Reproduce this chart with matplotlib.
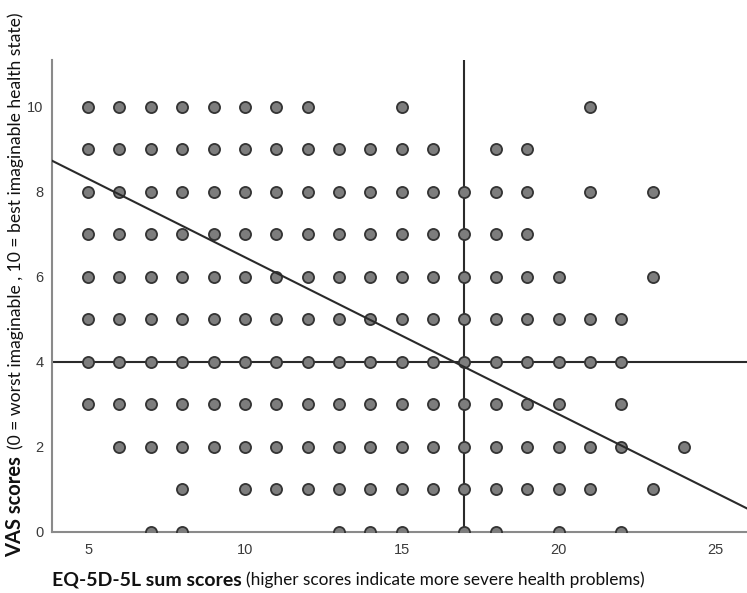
import numpy as np
import matplotlib.pyplot as plt

# VAS score -> EQ-5D-5L sum scores observed at that VAS level
rows = {
    10: [5, 6, 7, 8, 9, 10, 11, 12, 15, 21],
    9: [5, 6, 7, 8, 9, 10, 11, 12, 13, 14, 15, 16, 18, 19],
    8: list(range(5, 20)) + [21, 23],
    7: list(range(5, 20)),
    6: list(range(5, 21)) + [23],
    5: list(range(5, 23)),
    4: list(range(5, 23)),
    3: list(range(5, 21)) + [22],
    2: list(range(6, 23)) + [24],
    1: [8] + list(range(10, 22)) + [23],
    0: [7, 8, 13, 14, 15, 17, 18, 20, 22],
}
x_pts = []
y_pts = []
for vas, eqs in rows.items():
    x_pts += eqs
    y_pts += [vas] * len(eqs)

fit_intercept = 10.15
fit_slope = -0.369
ref_x = 17
ref_y = 4

fig = plt.figure(figsize=(7.47, 5.93), dpi=100)
ax = fig.add_axes([0.0696, 0.103, 0.93, 0.796])

ax.scatter(x_pts, y_pts, s=64, c="#7d7d7d", edgecolors="#333333", linewidths=1.3, zorder=3)

xl = np.array([3.85, 26.0])
ax.plot(xl, fit_intercept + fit_slope * xl, color="#2a2a2a", lw=1.5, zorder=4)
ax.axvline(ref_x, color="#2a2a2a", lw=1.5, zorder=2)
ax.axhline(ref_y, color="#2a2a2a", lw=1.5, zorder=2)

ax.set_xlim(3.85, 26.0)
ax.set_ylim(0, 11.1)
ax.set_xticks([5, 10, 15, 20, 25])
ax.set_yticks([0, 2, 4, 6, 8, 10])
for s in ["top", "right"]:
    ax.spines[s].set_visible(False)
for s in ["left", "bottom"]:
    ax.spines[s].set_color("#8a8a8a")
    ax.spines[s].set_linewidth(1.5)
ax.tick_params(length=0, labelsize=10.5, labelcolor="#3a3a3a", pad=8)
ax.tick_params(axis="y", pad=6)
for lab in ax.get_xticklabels() + ax.get_yticklabels():
    lab.set_family("Liberation Sans")

# composite axis labels: bold part followed by normal part
fig.canvas.draw()
r = fig.canvas.get_renderer()
t1 = fig.text(52 / 747, 1 - 580 / 593, "EQ-5D-5L sum scores", fontsize=14, fontweight="bold",
              family="Lato", va="center", ha="left", color="#111111")
bb = t1.get_window_extent(r)
fig.text(bb.x1 / fig.bbox.width + 0.006, 1 - 580 / 593,
         "(higher scores indicate more severe health problems)", fontsize=12.4,
         family="Lato", va="center", ha="left", color="#111111")

t2 = fig.text(15 / 747, 1 - 557 / 593, "VAS scores", fontsize=14.5, fontweight="bold",
              family="Lato", rotation=90, va="bottom", ha="center", color="#111111")
bb = t2.get_window_extent(r)
fig.text(15.5 / 747, bb.y1 / fig.bbox.height + 0.012,
         "(0 = worst imaginable , 10 = best imaginable health state)", fontsize=12.6,
         family="Lato", rotation=90, va="bottom", ha="center", color="#111111")

fig.savefig("out.png", dpi=100)
